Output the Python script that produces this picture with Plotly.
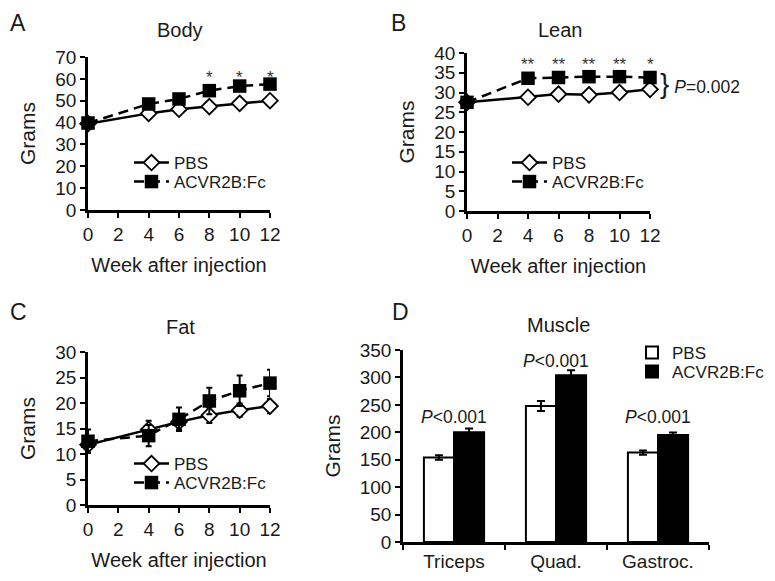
import plotly.graph_objects as go

# page body keeps the default 8px margin, so the figure fills the window exactly
OFF = 8
W, H = 775 - 2 * OFF, 581 - 2 * OFF
FONT = "Liberation Sans, Arial, sans-serif"

weeks = [0, 4, 6, 8, 10, 12]

# Panel A - Body
body_pbs = [39.5, 44.2, 46.1, 47.3, 48.8, 50.0]
body_acv = [39.8, 48.5, 50.8, 54.6, 56.7, 57.6]
body_star_weeks = [8, 10, 12]
body_stars = ["*", "*", "*"]

# Panel B - Lean
lean_pbs = [27.5, 28.8, 29.6, 29.4, 30.0, 30.8]
lean_acv = [27.5, 33.6, 33.8, 34.0, 34.0, 33.8]
lean_star_weeks = [4, 6, 8, 10, 12]
lean_stars = ["**", "**", "**", "**", "*"]

# Panel C - Fat
fat_pbs = [11.8, 14.8, 16.3, 17.6, 18.6, 19.4]
fat_pbs_err = [1.5, 1.7, 1.5, 1.5, 1.3, 1.4]
fat_acv = [12.5, 13.6, 16.8, 20.4, 22.4, 23.9]
fat_acv_err = [2.3, 2.1, 2.3, 2.6, 3.0, 2.6]

# Panel D - Muscle
muscles = ["Triceps", "Quad.", "Gastroc."]
mus_pbs = [154, 248, 163]
mus_pbs_err = [4, 9, 4]
mus_acv = [200, 304, 195]
mus_acv_err = [7, 9, 4.5]
mus_p = ["<i>P</i><0.001", "<i>P</i><0.001", "<i>P</i><0.001"]
mus_p_y = [228, 330, 228]


def px(x):
    return (x - OFF) / W


def py(y):
    return 1 - (y - OFF) / H


fig = go.Figure()

line_panels = [
    ("x", "y", "legend", "legend2", body_pbs, None, body_acv, None),
    ("x2", "y2", "legend3", "legend4", lean_pbs, None, lean_acv, None),
    ("x3", "y3", "legend5", "legend6", fat_pbs, fat_pbs_err, fat_acv, fat_acv_err),
]

for xa, ya, lg_p, lg_a, pbs, pe, acv, ae in line_panels:
    fig.add_trace(go.Scatter(
        x=weeks, y=pbs, name="PBS", xaxis=xa, yaxis=ya, legend=lg_p,
        mode="lines+markers", cliponaxis=False,
        line=dict(color="black", width=2.5),
        marker=dict(symbol="diamond", size=12, color="white",
                    line=dict(color="black", width=1.8)),
        error_y=dict(type="data", array=pe, visible=pe is not None,
                     color="black", thickness=2, width=3),
    ))
    fig.add_trace(go.Scatter(
        x=weeks, y=acv, name="ACVR2B:Fc", xaxis=xa, yaxis=ya, legend=lg_a,
        mode="lines+markers", cliponaxis=False,
        line=dict(color="black", width=2.5, dash="10px,6px"),
        marker=dict(symbol="square", size=13.5, color="black"),
        error_y=dict(type="data", array=ae, visible=ae is not None,
                     color="black", thickness=2, width=3),
    ))

fig.add_trace(go.Bar(
    x=muscles, y=mus_pbs, name="PBS", xaxis="x4", yaxis="y4", legend="legend7",
    marker=dict(color="white", line=dict(color="black", width=2)),
    error_y=dict(type="data", array=mus_pbs_err, color="black", thickness=2, width=4),
))
fig.add_trace(go.Bar(
    x=muscles, y=mus_acv, name="ACVR2B:Fc", xaxis="x4", yaxis="y4", legend="legend8",
    marker=dict(color="black", line=dict(color="black", width=2)),
    error_y=dict(type="data", array=mus_acv_err, color="black", thickness=2, width=4),
))

TXT = "#1a1a1a"
tickfont = dict(family=FONT, size=19, color=TXT)
titlefont = dict(family=FONT, size=20, color=TXT)


def xax(domain, anchor):
    return dict(domain=domain, anchor=anchor, range=[0, 12], dtick=2, tick0=0,
                showline=True, linecolor="black", linewidth=2.5,
                ticks="outside", ticklen=5, tickwidth=2, tickcolor="black",
                showgrid=False, zeroline=False, tickfont=tickfont,
                title=dict(text="Week after injection", font=titlefont, standoff=15),
                fixedrange=True)


def yax(domain, anchor, rng, dtick):
    return dict(domain=domain, anchor=anchor, range=rng, dtick=dtick, tick0=0,
                showline=True, linecolor="black", linewidth=2.5,
                ticks="outside", ticklen=5, tickwidth=2, tickcolor="black",
                showgrid=False, zeroline=False, tickfont=tickfont,
                title=dict(text="Grams", font=dict(family=FONT, size=21, color=TXT), standoff=14),
                fixedrange=True)


legfont = dict(family=FONT, size=17, color=TXT)


def leg(x, y, iw=35):
    return dict(x=px(x), y=py(y), xanchor="left", yanchor="middle",
                bgcolor="rgba(0,0,0,0)", font=legfont,
                itemwidth=iw, tracegroupgap=0)


fig.update_layout(
    width=W, height=H,
    margin=dict(l=0, r=0, t=0, b=0, pad=0, autoexpand=False),
    paper_bgcolor="white", plot_bgcolor="white",
    font=dict(family=FONT, color=TXT),
    barmode="group", bargap=0.41, bargroupgap=0,
    xaxis=xax([px(88), px(270)], "y"),
    yaxis=yax([py(210), py(57)], "x", [0, 70], 10),
    xaxis2=xax([px(467), px(650)], "y2"),
    yaxis2=yax([py(211), py(53)], "x2", [0, 40], 5),
    xaxis3=xax([px(88), px(270)], "y3"),
    yaxis3=yax([py(505), py(352)], "x3", [0, 30], 5),
    xaxis4=dict(domain=[px(403), px(709)], anchor="y4", type="category",
                range=[-0.5, 2.5], tickson="boundaries",
                showline=True, linecolor="black", linewidth=2.5,
                ticks="outside", ticklen=5, tickwidth=2, tickcolor="black",
                showgrid=False, zeroline=False, tickfont=tickfont,
                fixedrange=True),
    yaxis4=yax([py(542), py(350)], "x4", [0, 350], 50),
    legend=leg(129, 163),
    legend2=leg(129, 182),
    legend3=leg(507, 163),
    legend4=leg(507, 182),
    legend5=leg(129, 464),
    legend6=leg(129, 483),
    legend7=leg(632, 353, 30),
    legend8=leg(632, 372, 30),
    showlegend=True,
)

ann = []
# panel letters
for t, x, y in [("A", 18, 23), ("B", 398, 23), ("C", 18, 312), ("D", 400, 312)]:
    ann.append(dict(text=t, x=px(x), y=py(y), xref="paper", yref="paper",
                    xanchor="center", yanchor="middle",
                    showarrow=False, font=dict(family=FONT, size=23, color=TXT)))
# subplot titles
for t, x, y in [("Body", 180, 30), ("Lean", 560, 30), ("Fat", 180, 327), ("Muscle", 558, 325)]:
    ann.append(dict(text=t, x=px(x), y=py(y), xref="paper", yref="paper",
                    xanchor="center", yanchor="middle",
                    showarrow=False, font=dict(family=FONT, size=20, color=TXT)))
# stars
for wk, s in zip(body_star_weeks, body_stars):
    ann.append(dict(text=s, x=wk, y=60.5, xref="x", yref="y", showarrow=False,
                    font=dict(family=FONT, size=17, color="#333")))
for wk, s in zip(lean_star_weeks, lean_stars):
    ann.append(dict(text=s, x=wk, y=37, xref="x2", yref="y2", showarrow=False,
                    font=dict(family=FONT, size=17, color="#333")))
# P value in B
ann.append(dict(text='<span style="font-size:28px">}</span> <i>P</i>=0.002',
                x=12, y=32.3, xref="x2", yref="y2", xanchor="left", xshift=8,
                showarrow=False, font=dict(family=FONT, size=17.5, color=TXT)))
# P values in D
for m, t, yv in zip(muscles, mus_p, mus_p_y):
    ann.append(dict(text=t, x=m, y=yv, xref="x4", yref="y4", showarrow=False,
                    font=dict(family=FONT, size=17.5, color=TXT)))

fig.update_layout(annotations=ann)
fig.write_html("out.html")
